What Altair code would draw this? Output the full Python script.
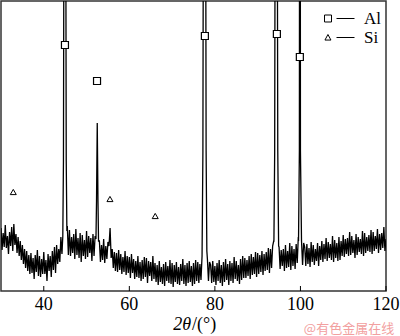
import altair as alt
import numpy as np
import pandas as pd

# ---- data (intensity in arbitrary units) ----
grid_start = 30.0
grid_step = 0.25
noise = [
    63, 41, 58, 44,  66, 43, 55, 37,  59, 45, 64, 40,  67, 46, 57, 38,   # 30-33
    54, 35, 50, 31,  46, 27, 42, 23,  40, 20, 36, 17,  38, 18, 33, 12,   # 34-37
    36, 19, 41, 15,  35, 14, 32, 17,  39, 17, 31, 10,  37, 20, 35, 14,   # 38-41
    40, 21, 44, 18,  46, 27, 42, 29,  54, 37, 58, 60,  60, 60, 65, 36,   # 42-45
    61, 35, 54, 38,  57, 32, 62, 36,  53, 33, 58, 29,  56, 35, 51, 32,   # 46-49
    60, 34, 55, 38,  53, 30, 57, 35,  55, 50, 50, 50,  50, 29, 46, 31,   # 50-53
    52, 28, 45, 32,  49, 45, 63, 33,  42, 23, 39, 20,  38, 19, 41, 21,   # 54-57
    37, 17, 34, 19,  40, 16, 35, 18,  34, 13, 37, 18,  32, 12, 30, 14,   # 58-61
    35, 13, 29, 10,  31, 12, 34, 14,  33, 8, 30, 15,   29, 10, 35, 12,   # 62-65
    28, 9, 26, 6,    30, 9, 24, 7,    27, 5, 29, 10,   25, 8, 31, 7,     # 66-69
    28, 4, 26, 9,    29, 7, 24, 6,    27, 10, 32, 7,   26, 5, 28, 8,     # 70-73
    30, 9, 25, 5,    28, 7, 31, 10,   29, 8, 27, 11,   32, 30, 30, 30,   # 74-77
    30, 32, 10, 29,  26, 8, 30, 9,    25, 6, 28, 10,   31, 8, 26, 5,     # 78-81
    29, 9, 32, 11,   27, 6, 30, 10,   28, 8, 34, 12,   30, 10, 26, 7,    # 82-85
    32, 11, 35, 13,  33, 13, 31, 15,  35, 12, 37, 16,  34, 17, 39, 14,   # 86-89
    38, 17, 36, 19,  40, 16, 37, 20,  39, 21, 43, 18,  42, 23, 45, 50,   # 90-93
    50, 50, 50, 50,  44, 22, 41, 25,  42, 20, 46, 23,  40, 24, 48, 21,   # 94-97
    45, 25, 42, 22,  47, 28, 54, 50,  50, 50, 26, 48,  44, 25, 47, 27,   # 98-101
    43, 24, 49, 29,  46, 26, 42, 30,  48, 25, 45, 31,  50, 29, 47, 32,   # 102-105
    53, 30, 49, 33,  47, 31, 55, 29,  51, 33, 48, 30,  54, 31, 50, 35,   # 106-109
    56, 34, 52, 37,  53, 35, 59, 36,  55, 38, 51, 33,  57, 36, 54, 39,   # 110-113
    52, 37, 60, 35,  58, 38, 54, 40,  56, 39, 61, 37,  59, 40, 55, 42,   # 114-117
    62, 38, 57, 41,  58, 43, 64, 40,  52,                                # 118-120
]
assert len(noise) == 361

peak_windows = [(44.45, 45.4), (52.2, 52.8), (77.0, 78.12), (93.8, 94.9), (99.55, 100.25)]
peak_x = [44.45, 44.6, 44.8, 44.95, 45.05, 45.25, 45.4,
          52.2, 52.33, 52.5, 52.67, 52.8,
          77.0, 77.2, 77.42, 77.6, 77.72, 77.95, 78.12,
          93.8, 93.98, 94.2, 94.35, 94.45, 94.7, 94.9,
          99.55, 99.75, 99.83, 99.88, 99.93, 100.0, 100.25]
peak_y = [55, 130, 600, 900, 600, 130, 60,
          52, 90, 168, 90, 50,
          35, 140, 700, 900, 700, 140, 40,
          50, 140, 700, 900, 700, 140, 45,
          50, 140, 700, 900, 700, 140, 50]

al_x = [44.95, 52.45, 77.66, 94.49, 99.86]
al_y = [246, 210, 255, 257, 234]
si_x = [32.87, 55.47, 66.05]
si_y = [99, 92, 75]
phases = ["Al", "Si"]
tick_values = [40, 60, 80, 100, 120]
tick_labels = ["40", "60", "80", "100", "120"]
title_italic = "2θ"
title_upright = "/(°)"
watermark = "@有色金属在线"

# ---- build tables ----
gx = grid_start + grid_step * np.arange(len(noise))
keep = np.ones(len(gx), dtype=bool)
for lo, hi in peak_windows:
    keep &= ~((gx >= lo - 1e-9) & (gx <= hi + 1e-9))
pattern = pd.DataFrame({
    "x": np.concatenate([gx[keep], np.array(peak_x)]),
    "y": np.concatenate([np.array(noise)[keep], np.array(peak_y)]),
}).sort_values("x")

al_df = pd.DataFrame({"x": al_x, "y": al_y})
si_df = pd.DataFrame({"x": si_x, "y": si_y})
leg_df = pd.DataFrame({"phase": phases, "x": [0, 0], "y": [100, 100]})
tick_df = pd.DataFrame({"x": tick_values, "label": tick_labels})
t1_df = pd.DataFrame({"t": [title_italic]})
t2_df = pd.DataFrame({"t": [title_upright]})
wm_df = pd.DataFrame({"t": [watermark]})

SERIF = "Liberation Serif"
FS = 18
xscale = alt.Scale(domain=[30, 120], nice=False, zero=False)
yscale = alt.Scale(domain=[0, 290], nice=False, zero=False)

X = alt.X("x:Q", scale=xscale, axis=None)
Y = alt.Y("y:Q", scale=yscale, axis=None)

line = alt.Chart(pattern).mark_line(color="black", strokeWidth=1.3, clip=True).encode(
    x=X, y=Y, order="x:Q")

squares = alt.Chart(al_df).mark_point(shape="square", size=49, filled=False,
                                      fill="white", fillOpacity=1, stroke="black",
                                      strokeWidth=1.2, opacity=1).encode(x=X, y=Y)

triangles = alt.Chart(si_df).mark_point(shape="triangle-up", size=36, filled=False,
                                        fill="white", fillOpacity=1, stroke="black",
                                        strokeWidth=1, opacity=1).encode(x=X, y=Y)

path_al = "M-1,-0.233 L-0.533,-0.233 L-0.533,0.233 L-1,0.233 Z M-0.2,0 L1,0"
path_si = "M-0.97,0.17 L-0.77,-0.2 L-0.57,0.17 Z M-0.2,0 L1,0"

legend_layer = alt.Chart(leg_df).mark_point(clip=True, size=900, filled=False,
                                            stroke="black", opacity=1).encode(
    x=X, y=Y,
    shape=alt.Shape("phase:N",
                    scale=alt.Scale(domain=phases, range=[path_al, path_si]),
                    legend=alt.Legend(title=None, orient="none", legendX=323, legendY=9,
                                      symbolSize=900, symbolStrokeWidth=1,
                                      symbolStrokeColor="black", symbolFillColor="white",
                                      labelFont=SERIF, labelFontSize=17,
                                      labelColor="black", labelOffset=9,
                                      clipHeight=17, rowPadding=1, padding=0)),
)

ticks = alt.Chart(tick_df).mark_rule(color="black", strokeWidth=1).encode(
    x=X, y=alt.value(290), y2=alt.value(285))

tick_text = alt.Chart(tick_df).mark_text(font=SERIF, fontSize=FS, color="black",
                                         align="center", baseline="middle").encode(
    x=X, y=alt.value(304), text="label:N")

title1 = alt.Chart(t1_df).mark_text(font=SERIF, fontSize=FS, fontStyle="italic",
                                    color="black", align="right", baseline="middle").encode(
    x=alt.value(190), y=alt.value(324), text="t:N")
title2 = alt.Chart(t2_df).mark_text(font=SERIF, fontSize=FS, color="black",
                                    align="left", baseline="middle").encode(
    x=alt.value(191), y=alt.value(324), text="t:N")

wm = alt.Chart(wm_df).mark_text(font="Noto Sans CJK SC", fontSize=13,
                                color="#f2a0a0", align="center", baseline="middle").encode(
    text="t:N", x=alt.value(348), y=alt.value(328))

chart = alt.layer(line, ticks, squares, triangles, legend_layer,
                  tick_text, title1, title2, wm).properties(
    width=385, height=290,
    padding={"left": 1, "top": 1, "right": 14, "bottom": 45},
    autosize="none", background="white",
).configure_view(stroke="#333333", strokeWidth=1.5)

chart.save("out.html", embed_options={"renderer": "svg", "actions": False})
